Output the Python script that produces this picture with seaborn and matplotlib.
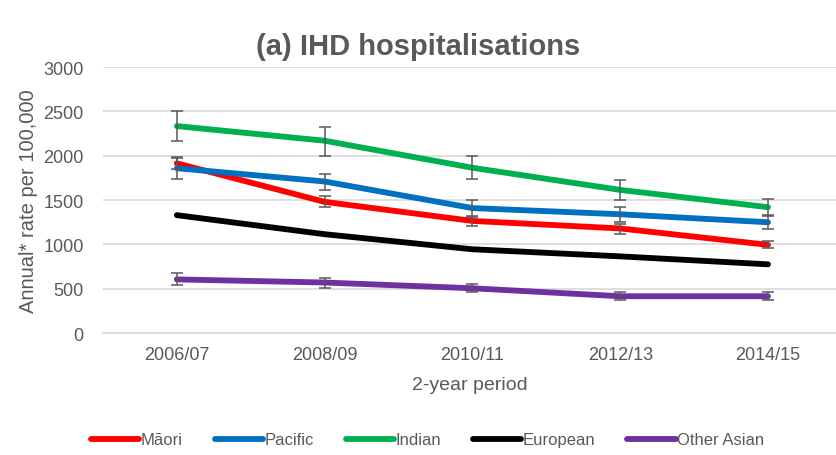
import matplotlib
matplotlib.use("Agg")
import matplotlib.pyplot as plt
import seaborn as sns
import pandas as pd
import numpy as np
from matplotlib.lines import Line2D

# Periods on the x axis
periods = ["2006/07", "2008/09", "2010/11", "2012/13", "2014/15"]

# Annual rate per 100,000 by ethnic group, with 95% confidence limits
maori = [1915, 1480, 1265, 1180, 995]
maori_lo = [1850, 1420, 1210, 1120, 955]
maori_hi = [1980, 1545, 1320, 1235, 1040]

pacific = [1860, 1710, 1410, 1340, 1250]
pacific_lo = [1735, 1610, 1310, 1250, 1170]
pacific_hi = [1985, 1800, 1500, 1425, 1320]

indian = [2335, 2170, 1865, 1615, 1420]
indian_lo = [2165, 2000, 1740, 1500, 1330]
indian_hi = [2510, 2330, 1995, 1725, 1510]

european = [1330, 1115, 945, 865, 775]

other_asian = [605, 570, 505, 415, 415]
other_asian_lo = [545, 510, 465, 375, 375]
other_asian_hi = [675, 625, 550, 460, 460]

groups = ["Māori", "Pacific", "Indian", "European", "Other Asian"]
values = [maori, pacific, indian, european, other_asian]
lows = [maori_lo, pacific_lo, indian_lo, None, other_asian_lo]
highs = [maori_hi, pacific_hi, indian_hi, None, other_asian_hi]
colors = ["#FF0000", "#0070C0", "#00B050", "#000000", "#7030A0"]

sns.set_theme(style="white")
plt.rcParams["font.family"] = ["Liberation Sans", "DejaVu Sans"]

TEXT = "#595959"
GRID = "#D9D9D9"

rows = []
for g, vals in zip(groups, values):
    for i, (p, v) in enumerate(zip(periods, vals)):
        rows.append({"group": g, "x": i, "period": p, "rate": v})
df = pd.DataFrame(rows)

fig = plt.figure(figsize=(8.37, 4.56), dpi=100)
ax = fig.add_axes([0.123, 0.2675, 0.877, 0.583])

sns.lineplot(data=df, x="x", y="rate", hue="group", hue_order=groups,
             palette=colors, linewidth=4.2, ax=ax, legend=False,
             solid_capstyle="round", zorder=3)

# Confidence interval whiskers
for vals, lo, hi in zip(values, lows, highs):
    if lo is None:
        continue
    v = np.array(vals)
    err = np.vstack([v - np.array(lo), np.array(hi) - v])
    ax.errorbar(np.arange(len(periods)), v, yerr=err, fmt="none",
                ecolor="#595959", elinewidth=1.1, capsize=4, capthick=1.1,
                zorder=4)

ax.set_xlim(-0.5, 4.467)
ax.set_ylim(0, 3000)
ax.set_yticks(range(0, 3001, 500))
ax.set_xticks(range(len(periods)))
ax.set_xticklabels(periods)
ax.yaxis.grid(True, color=GRID, linewidth=1.2, zorder=0)
ax.xaxis.grid(False)
for s in ["left", "right", "top"]:
    ax.spines[s].set_visible(False)
ax.spines["bottom"].set_color(GRID)
ax.spines["bottom"].set_linewidth(1.2)
ax.tick_params(axis="both", length=0, colors=TEXT, labelsize=13)
ax.tick_params(axis="y", pad=14)
ax.tick_params(axis="x", pad=9)

ax.set_xlabel("2-year period", fontsize=14, color=TEXT, labelpad=10)
ax.set_ylabel("Annual* rate per 100,000", fontsize=14.5, color=TEXT, labelpad=4)

fig.text(0.5, 0.897, "(a) IHD hospitalisations", ha="center", va="center",
         fontsize=21, fontweight="bold", color=TEXT)

handles = [Line2D([0], [0], color=c, linewidth=4.2, solid_capstyle="round")
           for c in colors]
fig.legend(handles, groups, loc="center", bbox_to_anchor=(0.511, 0.033),
           ncol=5, frameon=False, fontsize=12, handlelength=2.9,
           handletextpad=0.1, columnspacing=1.9, labelcolor=TEXT)

fig.savefig("out.png", dpi=100)
